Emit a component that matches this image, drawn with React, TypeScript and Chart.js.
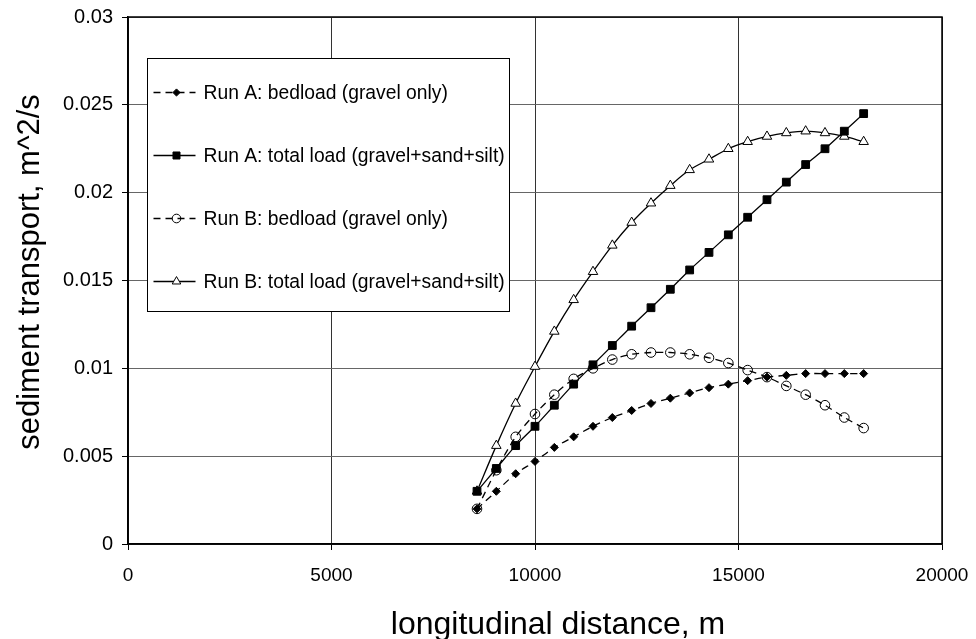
import { useEffect, useRef } from 'react';
import { Chart, registerables } from 'chart.js';
import { drawPoint } from 'chart.js/helpers';

Chart.register(...registerables);

const xDistance = [8575, 9050, 9525, 10000, 10475, 10950, 11425, 11900, 12375, 12850, 13325, 13800, 14275, 14750, 15225, 15700, 16175, 16650, 17125, 17600, 18075];

const runABedload = [0.0020, 0.0030, 0.0040, 0.0047, 0.0055, 0.0061, 0.0067, 0.0072, 0.0076, 0.0080, 0.0083, 0.0086, 0.0089, 0.0091, 0.0093, 0.0095, 0.0096, 0.0097, 0.0097, 0.0097, 0.0097];
const runATotal = [0.0030, 0.0043, 0.0056, 0.0067, 0.0079, 0.0091, 0.0102, 0.0113, 0.0124, 0.01345, 0.0145, 0.0156, 0.0166, 0.0176, 0.0186, 0.0196, 0.0206, 0.0216, 0.0225, 0.0235, 0.0245];
const runBBedload = [0.0020, 0.0042, 0.0061, 0.0074, 0.0085, 0.0094, 0.0100, 0.0105, 0.0108, 0.0109, 0.0109, 0.0108, 0.0106, 0.0103, 0.0099, 0.0095, 0.0090, 0.0085, 0.0079, 0.0072, 0.0066];
const runBTotal = [0.0030, 0.0056, 0.0080, 0.0101, 0.0121, 0.0139, 0.0155, 0.0170, 0.0183, 0.0194, 0.0204, 0.0213, 0.0219, 0.0225, 0.0229, 0.0232, 0.0234, 0.0235, 0.0234, 0.0232, 0.0229];

const seriesLabels = [
  'Run A: bedload (gravel only)',
  'Run A: total load (gravel+sand+silt)',
  'Run B: bedload (gravel only)',
  'Run B: total load (gravel+sand+silt)',
];

const xTickValues = [0, 5000, 10000, 15000, 20000];
const xTickLabels = ['0', '5000', '10000', '15000', '20000'];
const yTickValues = [0, 0.005, 0.01, 0.015, 0.02, 0.025, 0.03];
const yTickLabels = ['0', '0.005', '0.01', '0.015', '0.02', '0.025', '0.03'];

const xTitle = 'longitudinal distance, m';
const yTitle = 'sediment transport, m^2/s';

const FONT = "'Liberation Sans', Arial, Helvetica, sans-serif";

export default function App() {
  const ref = useRef<HTMLCanvasElement>(null);

  useEffect(() => {
    document.body.style.margin = '0';
    const canvas = ref.current;
    if (!canvas) return;

    const toPts = (ys: number[]) => xDistance.map((x, i) => ({ x, y: ys[i] }));

    const framePlugin = {
      id: 'frame',
      afterDraw(chart: any) {
        const { ctx, chartArea } = chart;
        const { left, top, right, bottom } = chartArea;
        ctx.save();
        ctx.strokeStyle = '#000';
        ctx.lineWidth = 1.5;
        ctx.strokeRect(left, top, right - left, bottom - top);
        ctx.restore();
      },
    };

    const titlesPlugin = {
      id: 'axisTitles',
      afterDraw(chart: any) {
        const { ctx, chartArea } = chart;
        ctx.save();
        ctx.fillStyle = '#000';
        ctx.textAlign = 'center';
        ctx.textBaseline = 'middle';
        ctx.font = `32px ${FONT}`;
        ctx.fillText(xTitle, chartArea.left + 430, chartArea.bottom + 81);
        ctx.translate(30, chartArea.top + 255);
        ctx.rotate(-Math.PI / 2);
        ctx.font = `31px ${FONT}`;
        ctx.fillText(yTitle, 0, 0);
        ctx.restore();
      },
    };

    const legendPlugin = {
      id: 'boxLegend',
      afterDatasetsDraw(chart: any) {
        const { ctx, chartArea } = chart;
        const bx = Math.round(chartArea.left + 19) + 0.5;
        const by = Math.round(chartArea.top + 41) + 0.5;
        const bw = 362;
        const bh = 253;
        ctx.save();
        ctx.fillStyle = '#fff';
        ctx.fillRect(bx, by, bw, bh);
        ctx.strokeStyle = '#000';
        ctx.lineWidth = 1;
        ctx.setLineDash([]);
        ctx.strokeRect(bx, by, bw, bh);
        chart.data.datasets.forEach((ds: any, i: number) => {
          const y = by + 34 + i * 63;
          ctx.save();
          ctx.strokeStyle = '#000';
          ctx.lineWidth = ds.borderWidth;
          ctx.setLineDash(ds.borderDash || []);
          ctx.beginPath();
          ctx.moveTo(bx + 6, y);
          ctx.lineTo(bx + 48, y);
          ctx.stroke();
          ctx.restore();
          ctx.save();
          ctx.fillStyle = ds.pointBackgroundColor;
          ctx.strokeStyle = '#000';
          ctx.lineWidth = 1;
          ctx.setLineDash([]);
          drawPoint(ctx, { pointStyle: ds.pointStyle, radius: ds.pointRadius * 0.9, borderWidth: 1, rotation: 0 } as any, bx + 29, y);
          ctx.restore();
          ctx.fillStyle = '#000';
          ctx.font = `19.3px ${FONT}`;
          ctx.textBaseline = 'middle';
          ctx.textAlign = 'left';
          ctx.fillText(ds.label, bx + 56, y + 1);
        });
        ctx.restore();
      },
    };

    const zeroPad = (s: any) => {
      s.paddingLeft = 0;
      s.paddingRight = 0;
      s.paddingTop = 0;
      s.paddingBottom = 0;
    };

    const chart = new Chart(canvas, {
      type: 'line',
      data: {
        datasets: [
          {
            label: seriesLabels[0],
            data: toPts(runABedload),
            borderColor: '#000',
            borderWidth: 1.3,
            borderDash: [7, 5],
            pointStyle: 'rectRot',
            pointRadius: 4,
            pointBackgroundColor: '#000',
            pointBorderColor: '#000',
            pointBorderWidth: 1,
            tension: 0.3,
          },
          {
            label: seriesLabels[1],
            data: toPts(runATotal),
            borderColor: '#000',
            borderWidth: 1.3,
            pointStyle: 'rect',
            pointRadius: 5.5,
            pointBackgroundColor: '#000',
            pointBorderColor: '#000',
            pointBorderWidth: 1,
            tension: 0.3,
          },
          {
            label: seriesLabels[2],
            data: toPts(runBBedload),
            borderColor: '#000',
            borderWidth: 1.3,
            borderDash: [7, 5],
            pointStyle: 'circle',
            pointRadius: 4.8,
            pointBackgroundColor: 'rgba(0,0,0,0)',
            pointBorderColor: '#000',
            pointBorderWidth: 1,
            tension: 0.3,
          },
          {
            label: seriesLabels[3],
            data: toPts(runBTotal),
            borderColor: '#000',
            borderWidth: 1.3,
            pointStyle: 'triangle',
            pointRadius: 5.5,
            pointBackgroundColor: '#fff',
            pointBorderColor: '#000',
            pointBorderWidth: 1,
            tension: 0.3,
          },
        ] as any,
      },
      options: {
        animation: false,
        responsive: true,
        maintainAspectRatio: false,
        devicePixelRatio: 1,
        layout: { padding: { left: 0, top: 17, right: 34, bottom: 0 } },
        plugins: {
          legend: { display: false },
          tooltip: { enabled: false },
        },
        scales: {
          x: {
            type: 'linear',
            min: 0,
            max: 20000,
            afterBuildTicks: (s: any) => {
              s.ticks = xTickValues.map((v) => ({ value: v }));
            },
            afterFit: (s: any) => {
              s.height = 95;
              zeroPad(s);
            },
            ticks: {
              autoSkip: false,
              maxRotation: 0,
              padding: 14,
              color: '#000',
              font: { family: FONT, size: 19 },
              callback: (_v: any, i: number) => xTickLabels[i],
            },
            grid: { color: '#333', lineWidth: 1, tickColor: '#000', tickLength: 6 },
            border: { color: '#000', width: 1.5 },
            title: { display: false },
          },
          y: {
            type: 'linear',
            min: 0,
            max: 0.03,
            afterBuildTicks: (s: any) => {
              s.ticks = yTickValues.map((v) => ({ value: v }));
            },
            afterFit: (s: any) => {
              s.width = 128;
              zeroPad(s);
            },
            ticks: {
              autoSkip: false,
              padding: 9,
              color: '#000',
              font: { family: FONT, size: 20 },
              callback: (_v: any, i: number) => yTickLabels[i],
            },
            grid: { color: '#666', lineWidth: 1, tickColor: '#000', tickLength: 6 },
            border: { color: '#000', width: 1.5 },
            title: { display: false },
          },
        },
      } as any,
      plugins: [legendPlugin, framePlugin, titlesPlugin],
    });

    return () => chart.destroy();
  }, []);

  return (
    <div style={{ position: 'relative', width: 976, height: 639 }}>
      <canvas ref={ref} />
    </div>
  );
}
